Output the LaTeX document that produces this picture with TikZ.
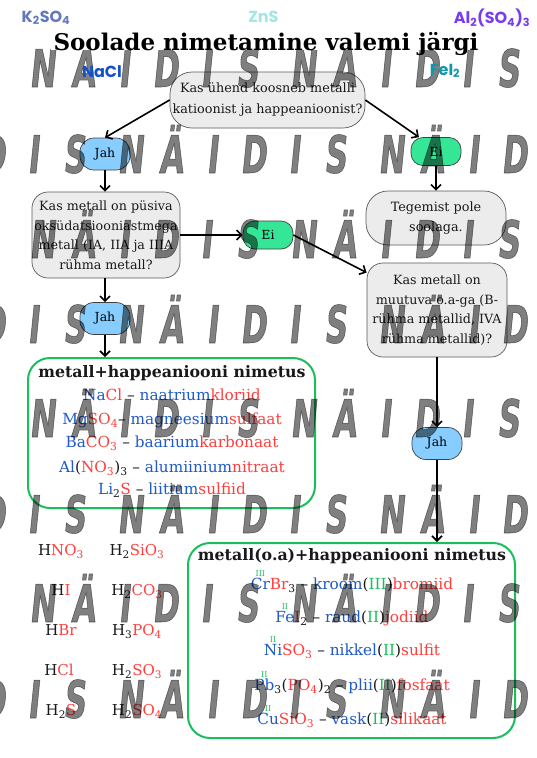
\documentclass[tikz,border=0pt]{standalone}
\usepackage{fontspec}
\usepackage{graphicx}
\setmainfont{DejaVu Serif}
\newfontfamily\popfont{Poppins}
\newfontfamily\wmfont[FakeStretch=0.6,FakeSlant=0.1,FakeBold=1.0]{DejaVu Sans}
\usetikzlibrary{arrows.meta}
\definecolor{qfill}{RGB}{236,236,236}
\definecolor{qline}{RGB}{90,90,90}
\definecolor{jahblue}{RGB}{135,205,255}
\definecolor{eigreen}{RGB}{52,230,150}
\definecolor{ogreen}{RGB}{28,190,92}
\definecolor{cblue}{RGB}{30,90,200}
\definecolor{cred}{RGB}{255,62,62}
\definecolor{txtdark}{RGB}{25,25,25}
\definecolor{kcol}{RGB}{100,120,190}
\definecolor{zcol}{RGB}{160,230,230}
\definecolor{acol}{RGB}{122,60,240}
\definecolor{ncol}{RGB}{20,80,200}
\definecolor{fcol}{RGB}{20,150,170}
\newcommand{\cblu}[1]{\textcolor{cblue}{#1}}
\newcommand{\cred}[1]{\textcolor{cred}{#1}}
\newcommand{\cgrn}[1]{\textcolor{ogreen}{#1}}
\newcommand{\oxst}[2]{\leavevmode\setbox0=\hbox{#2}\rlap{\hbox to \wd0{\hss\raisebox{13pt}{\fontsize{8}{8}\selectfont\textcolor{ogreen}{#1}}\hss}}\box0}
\newcommand{\wl}[1]{\makebox[41pt][c]{#1}}
\newcommand{\wword}{\wl{N}\wl{Ä}\wl{I}\wl{D}\wl{I}\wl{S}}
\tikzset{
  qbox/.style={draw=qline, fill=qfill, line width=0.7pt, align=center, inner sep=0pt, text=txtdark},
  jahbox/.style={draw=black!75, fill=jahblue, line width=0.7pt, rounded corners=14pt, minimum width=50pt, minimum height=32pt, inner sep=0pt, font=\fontsize{12.5}{14}\selectfont},
  eibox/.style={draw=black!75, fill=eigreen, line width=0.7pt, rounded corners=12pt, minimum width=50pt, minimum height=28pt, inner sep=0pt, font=\fontsize{12.5}{14}\selectfont},
  gbox/.style={draw=ogreen, line width=2pt, rounded corners=22pt, fill=white, inner sep=0pt},
  arr/.style={-{Straight Barb[length=5pt,width=10pt]}, line width=1.6pt, black},
  ln/.style={anchor=mid, inner sep=0pt, text=txtdark, font=\fontsize{15.3}{17}\selectfont},
  hd/.style={anchor=mid, inner sep=0pt, text=txtdark, font=\bfseries\fontsize{15.8}{17}\selectfont},
  ac/.style={anchor=mid, inner sep=0pt, text=txtdark, font=\fontsize{15}{17}\selectfont},
  pop/.style={inner sep=0pt, font=\popfont\bfseries\fontsize{16}{17}\selectfont},
  wm/.style={anchor=base west, inner sep=0pt, text=black, text opacity=0.5, font=\wmfont\bfseries\fontsize{52}{52}\selectfont}
}
\begin{document}
\begin{tikzpicture}[x=1pt,y=-1pt]
\useasboundingbox (0,0) rectangle (536,758);
\fill[white] (0,0) rectangle (536,758);

% flowchart boxes
\node[qbox, minimum width=195pt, minimum height=56pt, rounded corners=22pt, font=\fontsize{12.8}{21}\selectfont] (q1) at (267.5,100) {Kas ühend koosneb metalli\\katioonist ja happeanioonist?};
\node[jahbox] (jah1) at (105,154) {Jah};
\node[eibox] (ei1) at (436,151.5) {Ei};
\node[qbox, minimum width=148pt, minimum height=86pt, rounded corners=16pt, font=\fontsize{12.7}{19.5}\selectfont] (q2) at (106,235) {Kas metall on püsiva\\oksüdatsiooniastmega\\metall (IA, IIA ja IIIA\\rühma metall?};
\node[qbox, minimum width=140pt, minimum height=54pt, rounded corners=22pt, font=\fontsize{12.8}{20}\selectfont] (teg) at (436,218) {Tegemist pole\\soolaga.};
\node[eibox] (ei2) at (268,235) {Ei};
\node[qbox, minimum width=140pt, minimum height=94pt, rounded corners=16pt, font=\fontsize{12.7}{19.5}\selectfont] (q3) at (437,310) {Kas metall on\\muutuva o.a-ga (B-\\rühma metallid, IVA\\rühma metallid)?};
\node[jahbox] (jah2) at (105,318.5) {Jah};
\node[jahbox] (jah3) at (437,443.5) {Jah};
\node[gbox, minimum width=287pt, minimum height=150pt] (box4) at (171.5,433) {};
\node[gbox, minimum width=327pt, minimum height=195pt] (box5) at (351.5,640.5) {};

% connectors
\draw[arr] (q1.west) -- (jah1.north);
\draw[arr] (q1.east) -- (ei1.140);
\draw[arr] (jah1.south) -- (jah1.south |- q2.north);
\draw[arr] (ei1.south) -- (teg.north);
\draw[arr] (q2.east) -- (ei2.west);
\draw[arr] (ei2.east) -- (q3.152);
\draw[arr] (jah2.north |- q2.south) -- (jah2.north);
\draw[arr] (jah2.south) -- (jah2.south |- box4.north);
\draw[arr] (q3.south) -- (jah3.north);
\draw[arr] (jah3.south) -- (jah3.south |- box5.north);

% box 4 content
\node[hd] (b4t) at (172,375) {metall+happeaniooni nimetus};
\node[ln] (b4l1) at (172,398) {\cblu{Na}\cred{Cl} – \cblu{naatrium}\cred{kloriid}};
\node[ln] (b4l2) at (172,422) {\cblu{Mg}\cred{SO\textsubscript{4}}– \cblu{magneesium}\cred{sulfaat}};
\node[ln] (b4l3) at (172,445) {\cblu{Ba}\cred{CO\textsubscript{3}} – \cblu{baarium}\cred{karbonaat}};
\node[ln] (b4l4) at (172,470) {\cblu{Al}(\cred{NO\textsubscript{3}})\textsubscript{3} – \cblu{alumiinium}\cred{nitraat}};
\node[ln] (b4l5) at (172,492) {\cblu{Li}\textsubscript{2}\cred{S} – \cblu{liitium}\cred{sulfiid}};

% box 5 content
\node[hd] (b5t) at (352,558) {metall(o.a)+happeaniooni nimetus};
\node[ln] (b5l1) at (352,587) {\oxst{III}{\cblu{Cr}}\cred{Br}\textsubscript{3} – \cblu{kroom}(\cgrn{III})\cred{bromiid}};
\node[ln] (b5l2) at (352,620) {\oxst{II}{\cblu{Fe}}\cred{I}\textsubscript{2} – \cblu{raud}(\cgrn{II})\cred{jodiid}};
\node[ln] (b5l3) at (352,653) {\oxst{II}{\cblu{Ni}}\cred{SO\textsubscript{3}} – \cblu{nikkel}(\cgrn{II})\cred{sulfit}};
\node[ln] (b5l4) at (352,688) {\oxst{II}{\cblu{Pb}}\textsubscript{3}(\cred{PO\textsubscript{4}})\textsubscript{2} – \cblu{plii}(\cgrn{II})\cred{fosfaat}};
\node[ln] (b5l5) at (352,722) {\oxst{II}{\cblu{Cu}}\cred{SiO\textsubscript{3}} – \cblu{vask}(\cgrn{II})\cred{silikaat}};

% acids
\node[ac] (a1) at (61,553) {H\cred{NO\textsubscript{3}}};
\node[ac] (a2) at (61,593) {H\cred{I}};
\node[ac] (a3) at (61,633) {H\cred{Br}};
\node[ac] (a4) at (59,673) {H\cred{Cl}};
\node[ac] (a5) at (61,713) {H\textsubscript{2}\cred{S}};
\node[ac] (a6) at (137,553) {H\textsubscript{2}\cred{SiO\textsubscript{3}}};
\node[ac] (a7) at (137,593) {H\textsubscript{2}\cred{CO\textsubscript{3}}};
\node[ac] (a8) at (137,633) {H\textsubscript{3}\cred{PO\textsubscript{4}}};
\node[ac] (a9) at (137,673) {H\textsubscript{2}\cred{SO\textsubscript{3}}};
\node[ac] (a10) at (137,713) {H\textsubscript{2}\cred{SO\textsubscript{4}}};

% watermark
\node[wm] (wm1) at (21.5,87) {\wword\hspace{15pt}\wword};
\node[wm] (wm2) at (-28.5,173) {\wl{D}\wl{I}\wl{S}\hspace{15pt}\wword\hspace{15pt}\wl{N}\wl{Ä}\wl{I}\wl{D}};
\node[wm] (wm3) at (21.5,258) {\wword\hspace{15pt}\wword};
\node[wm] (wm4) at (-28.5,343) {\wl{D}\wl{I}\wl{S}\hspace{15pt}\wword\hspace{15pt}\wl{N}\wl{Ä}\wl{I}\wl{D}};
\node[wm] (wm5) at (21.5,437) {\wword\hspace{15pt}\wword};
\node[wm] (wm6) at (-28.5,533) {\wl{D}\wl{I}\wl{S}\hspace{15pt}\wword\hspace{15pt}\wl{N}\wl{Ä}\wl{I}\wl{D}};
\node[wm] (wm7) at (21.5,622) {\wword\hspace{15pt}\wword};
\node[wm] (wm8) at (-28.5,718) {\wl{D}\wl{I}\wl{S}\hspace{15pt}\wword\hspace{15pt}\wl{N}\wl{Ä}\wl{I}\wl{D}};

% title and decorative formulas
\node[anchor=base, fill=white, inner xsep=3pt, inner ysep=0pt, text depth=0pt, text height=20pt, text=black, font=\bfseries\fontsize{23}{26}\selectfont] (title) at (266,50) {Soolade nimetamine valemi järgi};
\node[pop, text=kcol] (f1) at (46,18) {K\textsubscript{2}SO\textsubscript{4}};
\node[pop, text=zcol] (f2) at (263.5,17) {ZnS};
\node[pop, text=acol] (f3) at (492,18) {Al\textsubscript{2}(SO\textsubscript{4})\textsubscript{3}};
\node[pop, text=ncol] (f4) at (102,72) {NaCl};
\node[pop, text=fcol] (f5) at (445,71) {FeI\textsubscript{2}};
\end{tikzpicture}
\end{document}
